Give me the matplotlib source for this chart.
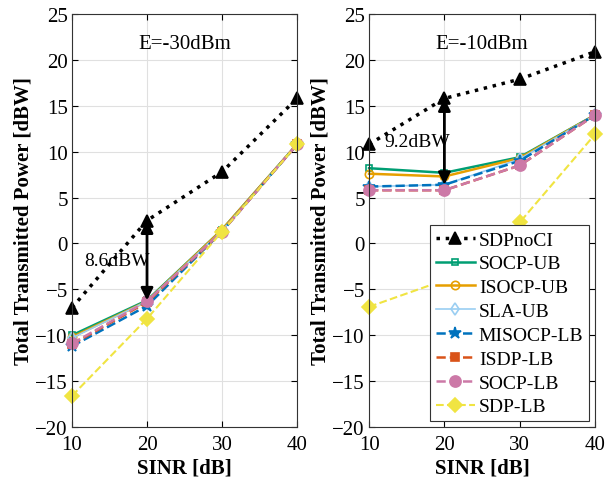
import matplotlib.pyplot as plt

plt.rcParams['font.family'] = ['Liberation Serif', 'DejaVu Serif']

sinr = [10, 20, 30, 40]

names = ['SDPnoCI', 'SOCP-UB', 'ISOCP-UB', 'SLA-UB', 'MISOCP-LB', 'ISDP-LB', 'SOCP-LB', 'SDP-LB']

# E = -30 dBm
left_vals = [
    [-7.0, 2.5, 7.8, 15.8],
    [-10.0, -6.2, 1.5, 10.8],
    [-10.2, -6.3, 1.5, 10.8],
    [-10.3, -6.3, 1.4, 10.8],
    [-11.2, -6.8, 1.3, 10.8],
    [-11.0, -6.4, 1.3, 10.8],
    [-10.9, -6.3, 1.3, 10.8],
    [-16.6, -8.2, 1.3, 10.8],
]

# E = -10 dBm
right_vals = [
    [10.8, 15.8, 17.9, 20.9],
    [8.2, 7.7, 9.4, 14.0],
    [7.6, 7.3, 9.3, 14.0],
    [6.2, 6.4, 9.2, 14.0],
    [6.2, 6.4, 9.0, 14.0],
    [5.8, 5.8, 8.5, 14.0],
    [5.8, 5.8, 8.5, 14.0],
    [-6.9, -4.0, 2.3, 11.9],
]

styles = [
    dict(color='black', ls=':', lw=2.5, marker='^', ms=8, mfc='black'),
    dict(color='#009E73', ls='-', lw=1.8, marker='s', ms=5, mfc='none'),
    dict(color='#E69F00', ls='-', lw=1.8, marker='o', ms=6, mfc='none'),
    dict(color='#9ACEF2', ls='-', lw=1.2, marker='d', ms=6, mfc='none'),
    dict(color='#0072BD', ls='--', lw=1.8, marker='*', ms=9, mfc='#0072BD'),
    dict(color='#D95319', ls='--', lw=1.8, marker='s', ms=6, mfc='#D95319'),
    dict(color='#CC79A7', ls='--', lw=1.8, marker='o', ms=8, mfc='#CC79A7'),
    dict(color='#F0E442', ls='--', lw=1.5, marker='D', ms=7, mfc='#F0E442'),
]

fig = plt.figure(figsize=(6.05, 4.85), dpi=100)
ax1 = fig.add_axes([0.119, 0.1175, 0.372, 0.8515])
ax2 = fig.add_axes([0.610, 0.1175, 0.3736, 0.8515])


def setup(ax):
    ax.set_xlim(10, 40)
    ax.set_ylim(-20, 25)
    ax.set_xticks(sinr)
    ax.set_yticks(range(-20, 26, 5))
    ax.grid(True, color='#e0e0e0', lw=0.8)
    ax.set_axisbelow(True)
    ax.tick_params(direction='in', labelsize=15, top=True, right=True, length=4, pad=3)
    ax.tick_params(axis='x', pad=6)
    for s in ax.spines.values():
        s.set_linewidth(0.8)
        s.set_color('#333333')
    ax.set_xlabel('SINR [dB]', fontsize=15, fontweight='bold', labelpad=2)
    ax.set_ylabel('Total Transmitted Power [dBW]', fontsize=15, fontweight='bold', labelpad=1)


for ax, vals in [(ax1, left_vals), (ax2, right_vals)]:
    setup(ax)
    for name, v, st in zip(names, vals, styles):
        ax.plot(sinr, v, label=name, mew=1.2, clip_on=False, **st)

ax1.text(25, 21.8, 'E=-30dBm', fontsize=15, ha='center', va='center')
ax2.text(24.9, 21.8, 'E=-10dBm', fontsize=15, ha='center', va='center')

arrow = dict(arrowstyle='<|-|>', color='black', lw=2, mutation_scale=18, shrinkA=0, shrinkB=0)
ax1.annotate('', xy=(20, left_vals[1][1]), xytext=(20, left_vals[0][1]), arrowprops=arrow)
ax1.text(11.7, -1.9, '8.6dBW', fontsize=14, va='center')
ax2.annotate('', xy=(20, right_vals[3][1]), xytext=(20, right_vals[0][1]), arrowprops=arrow)
ax2.text(12.1, 11.1, '9.2dBW', fontsize=14, va='center')

leg = ax2.legend(loc='lower right', fontsize=14, frameon=True, fancybox=False,
                 edgecolor='#333333', framealpha=1, handlelength=2.0,
                 borderpad=0.3, labelspacing=0.32, handletextpad=0.2,
                 borderaxespad=0.3)
leg.get_frame().set_linewidth(0.8)

fig.savefig('out.png', dpi=100)
